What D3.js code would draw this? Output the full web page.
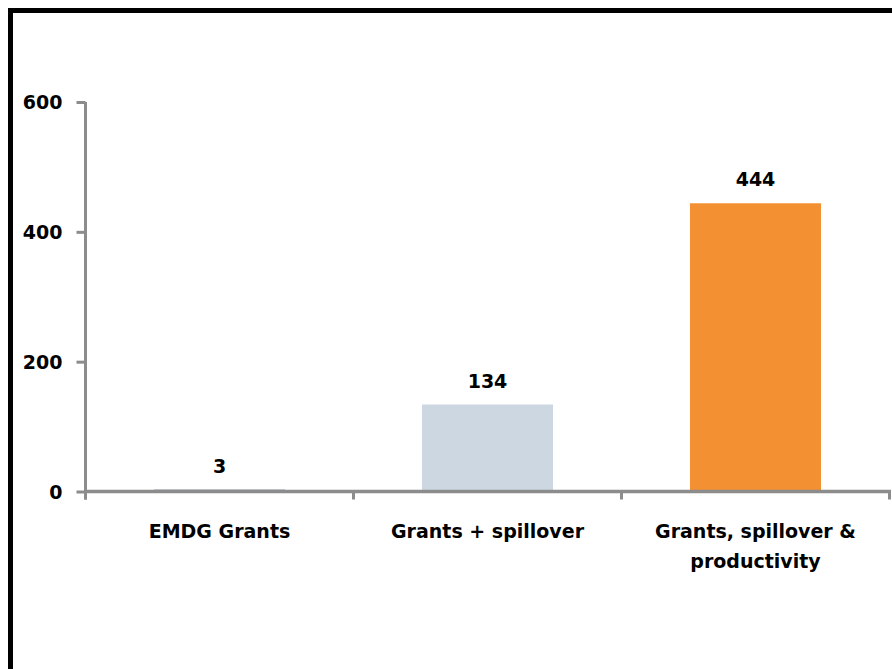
<!DOCTYPE html>
<html>
<head>
<meta charset="utf-8">
<script src="https://cdn.jsdelivr.net/npm/d3@7"></script>
<style>
  html, body { margin: 0; padding: 0; background: #fff; overflow: hidden; }
  svg { display: block; }
  text { font-family: "DejaVu Sans", sans-serif; font-weight: bold; fill: #000; }
</style>
</head>
<body>
<script>
// Cumulative benefit of the grant programme, by scope of effect
const categories = ["EMDG Grants", "Grants + spillover", "Grants, spillover & productivity"];
const categoryLines = [["EMDG Grants"], ["Grants + spillover"], ["Grants, spillover &", "productivity"]];
const values = [3, 134, 444];
const barColors = ["#8497b0", "#cdd7e2", "#f39032"];
const yTicks = [0, 200, 400, 600];

const W = 892, H = 669;
const FONT = 19;
const svg = d3.select("body").append("svg").attr("width", W).attr("height", H);

// frame
svg.append("rect")
  .attr("x", 10.5).attr("y", 10.5)
  .attr("width", 1200).attr("height", 1200)
  .attr("fill", "none").attr("stroke", "#000").attr("stroke-width", 5);

const x0 = 85.5, x1 = 889.5, yTop = 102, yBot = 491.5;
const axisColor = "#8c8c8c";

const y = d3.scaleLinear().domain([0, 600]).range([yBot, yTop]);
const x = d3.scaleBand().domain(categories).range([x0, x1])
  .paddingInner(0.511).paddingOuter(0.2555);
const step = x.step();

// bars
svg.append("g").selectAll("rect").data(values).join("rect")
  .attr("x", (d, i) => x(categories[i]))
  .attr("y", d => y(d))
  .attr("width", x.bandwidth())
  .attr("height", d => y(0) - y(d))
  .attr("fill", (d, i) => barColors[i]);

// y axis
const yAxis = svg.append("g").attr("transform", `translate(${x0},0)`)
  .call(d3.axisLeft(y).tickValues(yTicks).tickSize(9).tickPadding(14).tickFormat(d3.format("d")));
yAxis.select(".domain").attr("stroke", axisColor).attr("stroke-width", 3)
  .attr("d", `M0,${yTop}V${yBot + 8}`);
yAxis.selectAll(".tick line").attr("stroke", axisColor).attr("stroke-width", 3);
yAxis.selectAll(".tick text").attr("font-size", FONT).attr("dy", "0.36em")
  .style("font-family", "'DejaVu Sans', sans-serif").style("font-weight", "bold").attr("fill", "#000");

// x axis line with boundary ticks
const xg = svg.append("g");
xg.append("line").attr("x1", x0 - 1.5).attr("x2", x1 + 1.5).attr("y1", y(0)).attr("y2", y(0))
  .attr("stroke", axisColor).attr("stroke-width", 3.5);
xg.selectAll("line.bt").data(d3.range(categories.length + 1)).join("line")
  .attr("class", "bt")
  .attr("x1", i => x0 + i * step).attr("x2", i => x0 + i * step)
  .attr("y1", y(0)).attr("y2", y(0) + 8)
  .attr("stroke", axisColor).attr("stroke-width", 3);

// category labels
const cat = svg.append("g").selectAll("text").data(categoryLines).join("text")
  .attr("text-anchor", "middle")
  .attr("font-size", FONT)
  .attr("x", (d, i) => x(categories[i]) + x.bandwidth() / 2)
  .attr("y", y(0) + 46.5);
cat.selectAll("tspan").data(d => d).join("tspan")
  .attr("x", function () { return d3.select(this.parentNode).attr("x"); })
  .attr("dy", (d, j) => j === 0 ? 0 : 29.5)
  .text(d => d);

// value labels
svg.append("g").selectAll("text").data(values).join("text")
  .attr("text-anchor", "middle")
  .attr("font-size", FONT)
  .attr("x", (d, i) => x(categories[i]) + x.bandwidth() / 2)
  .attr("y", d => y(d) - 17)
  .text(d => d);
</script>
</body>
</html>
